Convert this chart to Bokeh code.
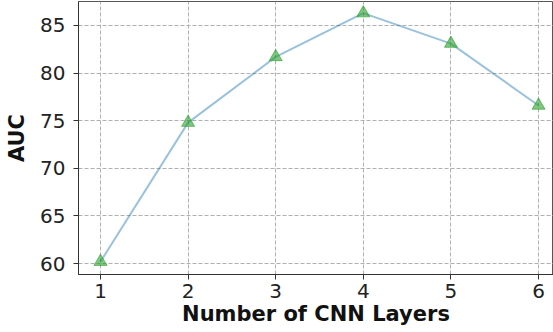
from bokeh.plotting import figure
from bokeh.models import Range1d, FixedTicker
from bokeh.embed import file_html
from bokeh.resources import INLINE

# AUC versus depth of the CNN stack
layers = [1, 2, 3, 4, 5, 6]
auc = [60.2, 74.8, 81.7, 86.3, 83.1, 76.6]
x_ticks = [1, 2, 3, 4, 5, 6]
y_ticks = [60, 65, 70, 75, 80, 85]

p = figure(
    width=553, height=332,
    output_backend="svg", toolbar_location=None,
    x_range=Range1d(0.749, 6.171), y_range=Range1d(58.85, 87.52),
    min_border_left=78, min_border_right=0, min_border_top=1, min_border_bottom=58,
)

p.line(layers, auc, line_color="#1f77b4", line_alpha=0.45, line_width=2)
p.scatter(layers, auc, marker="triangle", size=13,
          fill_color="#2ca02c", fill_alpha=0.6, line_color="#2ca02c", line_alpha=0.6)

font = "DejaVu Sans"
for ax in (p.xaxis, p.yaxis):
    ax.major_label_text_font = font
    ax.major_label_text_font_size = "20px"
    ax.major_label_text_color = "#222222"
    ax.axis_label_text_font = font
    ax.axis_label_text_font_size = "21px"
    ax.axis_label_text_font_style = "bold"
    ax.axis_label_text_color = "#111111"
    ax.axis_line_color = "#333333"
    ax.major_tick_line_color = "#333333"
    ax.major_tick_out = 5
    ax.major_tick_in = 0
    ax.minor_tick_line_color = None

p.xaxis.ticker = FixedTicker(ticks=x_ticks)
p.yaxis.ticker = FixedTicker(ticks=y_ticks)
p.xaxis.axis_label = "Number of CNN Layers"
p.yaxis.axis_label = "AUC"
p.xaxis.major_label_standoff = 4
p.yaxis.major_label_standoff = 8
p.xaxis.axis_label_standoff = 1
p.yaxis.axis_label_standoff = 8

for g in (p.xgrid, p.ygrid):
    g.grid_line_color = "#b0b0b0"
    g.grid_line_dash = "4 2"
    g.grid_line_width = 1

p.outline_line_color = "#555555"
p.background_fill_color = "white"
p.border_fill_color = "white"

open("out.html", "w").write(file_html(p, INLINE))
